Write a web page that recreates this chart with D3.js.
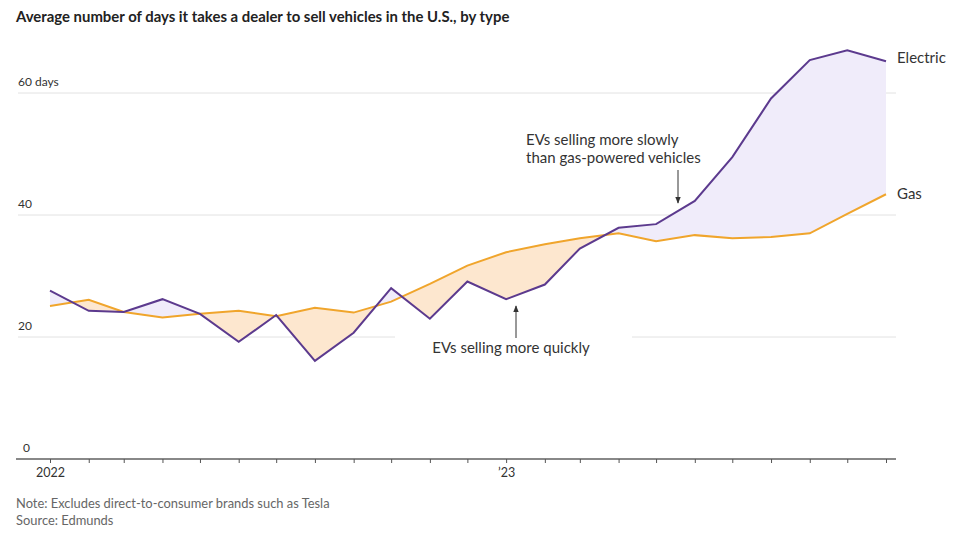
<!DOCTYPE html>
<html>
<head>
<meta charset="utf-8">
<script src="https://cdn.jsdelivr.net/npm/d3@7"></script>
<style>
  body { margin: 0; background: #fff; }
  svg { display: block; font-family: Lato, "Noto Sans", sans-serif; }
</style>
</head>
<body>
<svg id="chart" width="974" height="537"></svg>
<script>
// Monthly data, Jan 2022 - Nov 2023
var months = ["2022-01", "2022-02", "2022-03", "2022-04", "2022-05", "2022-06",
  "2022-07", "2022-08", "2022-09", "2022-10", "2022-11", "2022-12",
  "2023-01", "2023-02", "2023-03", "2023-04", "2023-05", "2023-06",
  "2023-07", "2023-08", "2023-09", "2023-10", "2023-11"];
var electric = [27.6, 24.3, 24.1, 26.2, 23.8, 19.2, 23.6, 16.1, 20.7, 28.0, 23.0, 29.1,
  26.2, 28.6, 34.5, 37.9, 38.5, 42.3, 49.5, 59.1, 65.4, 67.0, 65.2];
var gas = [25.1, 26.1, 24.1, 23.2, 23.8, 24.3, 23.4, 24.8, 24.0, 25.8, 28.7, 31.7,
  33.9, 35.2, 36.2, 37.0, 35.7, 36.7, 36.2, 36.4, 37.0, 40.2, 43.4];
var yTicks = [0, 20, 40, 60];
var yTickLabels = ["0", "20", "40", "60 days"];
var xTickLabels = { "2022-01": "2022", "2023-01": "\u201923" };

var parse = d3.utcParse("%Y-%m");
var data = months.map((m, i) => ({ date: parse(m), ev: electric[i], gas: gas[i] }));

var svg = d3.select("#chart");
var x = d3.scaleUtc()
  .domain(d3.extent(data, (d) => d.date))
  .range([50, 886]);
var y = d3.scaleLinear().domain([0, 60]).range([459, 93]);

// title
svg.append("text")
  .attr("x", 16).attr("y", 22)
  .attr("font-size", 14.9).attr("font-weight", "bold").attr("fill", "#222")
  .text("Average number of days it takes a dealer to sell vehicles in the U.S., by type");

// gridlines
svg.append("g").selectAll("line")
  .data(yTicks.filter((t) => t > 0))
  .enter().append("line")
  .attr("x1", 18).attr("x2", 896)
  .attr("y1", (d) => y(d)).attr("y2", (d) => y(d))
  .attr("stroke", "#e2e2e2").attr("stroke-width", 1);

// y labels
svg.append("g").selectAll("text")
  .data(yTicks)
  .enter().append("text")
  .attr("x", (d) => (d === 0 ? 23 : 18))
  .attr("y", (d) => y(d) - 7)
  .attr("font-size", 12).attr("fill", "#333")
  .text((d, i) => yTickLabels[i]);

// difference fill, clipped by the gas line
var aboveClip = d3.area().x((d) => x(d.date)).y0(0).y1((d) => y(d.gas));
var belowClip = d3.area().x((d) => x(d.date)).y0(537).y1((d) => y(d.gas));
var defs = svg.append("defs");
defs.append("clipPath").attr("id", "clip-above").append("path").datum(data).attr("d", aboveClip);
defs.append("clipPath").attr("id", "clip-below").append("path").datum(data).attr("d", belowClip);

var between = d3.area()
  .x((d) => x(d.date))
  .y0((d) => y(d.gas))
  .y1((d) => y(d.ev));

svg.append("path").datum(data)
  .attr("clip-path", "url(#clip-above)")
  .attr("fill", "#f0ecfa")
  .attr("d", between);
svg.append("path").datum(data)
  .attr("clip-path", "url(#clip-below)")
  .attr("fill", "#fde7cf")
  .attr("d", between);

// white box behind lower annotation (breaks the 20 gridline)
svg.append("rect")
  .attr("x", 395).attr("y", y(20) - 2)
  .attr("width", 237).attr("height", 4)
  .attr("fill", "#fff");

// lines
var evLine = d3.line().x((d) => x(d.date)).y((d) => y(d.ev));
var gasLine = d3.line().x((d) => x(d.date)).y((d) => y(d.gas));
svg.append("path").datum(data)
  .attr("fill", "none").attr("stroke", "#f0a52c").attr("stroke-width", 2)
  .attr("d", gasLine);
svg.append("path").datum(data)
  .attr("fill", "none").attr("stroke", "#5c3a8e").attr("stroke-width", 2)
  .attr("d", evLine);

// x axis
var xAxis = d3.axisBottom(x)
  .ticks(d3.utcMonth.every(1))
  .tickSize(4)
  .tickFormat((d) => xTickLabels[d3.utcFormat("%Y-%m")(d)] || "");
var gx = svg.append("g")
  .attr("transform", "translate(0," + y(0) + ")")
  .call(xAxis);
gx.select(".domain").attr("d", "M16,0H896").attr("stroke", "#888").attr("stroke-width", 2);
gx.selectAll(".tick line").attr("stroke", "#555");
gx.selectAll(".tick text")
  .attr("font-family", "Lato, 'Noto Sans', sans-serif")
  .attr("font-size", 12.5).attr("fill", "#333").attr("dy", "0.9em");

// series labels
var last = data[data.length - 1];
svg.append("text").attr("x", 897).attr("y", y(last.ev) + 2)
  .attr("font-size", 15).attr("fill", "#333").text("Electric");
svg.append("text").attr("x", 897).attr("y", y(last.gas) + 5)
  .attr("font-size", 15).attr("fill", "#333").text("Gas");

// annotations
var arrowDefs = defs.append("marker")
  .attr("id", "arrow").attr("viewBox", "0 0 10 10")
  .attr("refX", 9).attr("refY", 5)
  .attr("markerWidth", 7).attr("markerHeight", 7)
  .attr("orient", "auto-start-reverse");
arrowDefs.append("path").attr("d", "M0,1L10,5L0,9Z").attr("fill", "#333");

var slow = svg.append("text").attr("font-size", 15).attr("fill", "#333");
slow.append("tspan").attr("x", 526).attr("y", 145).text("EVs selling more slowly");
slow.append("tspan").attr("x", 526).attr("y", 163).text("than gas-powered vehicles");
svg.append("line")
  .attr("x1", 678).attr("y1", 170).attr("x2", 678).attr("y2", 203)
  .attr("stroke", "#333").attr("stroke-width", 1)
  .attr("marker-end", "url(#arrow)");

svg.append("text").attr("x", 511).attr("y", 353)
  .attr("text-anchor", "middle")
  .attr("font-size", 15).attr("fill", "#333")
  .text("EVs selling more quickly");
svg.append("line")
  .attr("x1", 516).attr("y1", 338).attr("x2", 516).attr("y2", 306)
  .attr("stroke", "#333").attr("stroke-width", 1)
  .attr("marker-end", "url(#arrow)");

// footer
svg.append("text").attr("x", 16).attr("y", 508)
  .attr("font-size", 12.9).attr("fill", "#666")
  .text("Note: Excludes direct-to-consumer brands such as Tesla");
svg.append("text").attr("x", 16).attr("y", 525)
  .attr("font-size", 12.9).attr("fill", "#666")
  .text("Source: Edmunds");
</script>
</body>
</html>
